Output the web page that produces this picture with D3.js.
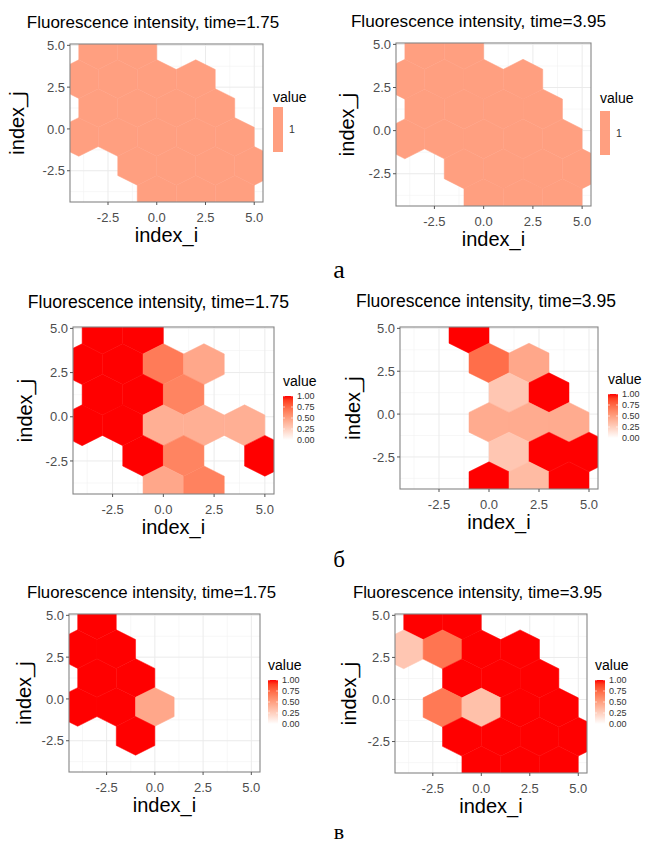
<!DOCTYPE html>
<html>
<head>
<meta charset="utf-8">
<script src="https://cdn.jsdelivr.net/npm/d3@7"></script>
<style>
  html, body { margin: 0; padding: 0; background: #ffffff; }
  svg { display: block; }
  text { font-family: "Liberation Sans", Arial, sans-serif; }
</style>
</head>
<body>
<svg id="fig" width="645" height="844"></svg>
<script>
// ---------------- DATA ----------------
const titles = [
  "Fluorescence intensity, time=1.75",
  "Fluorescence intensity, time=3.95",
  "Fluorescence intensity, time=1.75",
  "Fluorescence intensity, time=3.95",
  "Fluorescence intensity, time=1.75",
  "Fluorescence intensity, time=3.95"
];
const xTicks = [-2.5, 0, 2.5, 5.0];
const yTicks = [-2.5, 0, 2.5, 5.0];
const xTickLabels = ["-2.5", "0.0", "2.5", "5.0"];
const yTickLabels = ["-2.5", "0.0", "2.5", "5.0"];
const xMinor = [-3.75, -1.25, 1.25, 3.75];
const yMinor = [-3.75, -1.25, 1.25, 3.75];
const xLabel = "index_i";
const yLabel = "index_j";
const legendTitle = "value";
const legendValues = [0, 0.25, 0.5, 0.75, 1];
const legendLabels = ["0.00", "0.25", "0.50", "0.75", "1.00"];
const singleLabel = ["1"];
const subLabels = ["а", "б", "в"];

// hex bins: [index_i centre, index_j centre, value]
const hexA175 = [
  [-3, 4.71, 1], [-1, 4.71, 1],
  [-4, 2.98, 1], [-2, 2.98, 1], [0, 2.98, 1], [2, 2.98, 1],
  [-3, 1.25, 1], [-1, 1.25, 1], [1, 1.25, 1], [3, 1.25, 1],
  [-4, -0.48, 1], [-2, -0.48, 1], [0, -0.48, 1], [2, -0.48, 1], [4, -0.48, 1],
  [-1, -2.21, 1], [1, -2.21, 1], [3, -2.21, 1], [5, -2.21, 1],
  [0, -3.94, 1], [2, -3.94, 1], [4, -3.94, 1]
];
const hexA395 = [
  [-3, 4.71, 1], [-1, 4.71, 1],
  [-4, 2.98, 1], [-2, 2.98, 1], [0, 2.98, 1], [2, 2.98, 1],
  [-3, 1.25, 1], [-1, 1.25, 1], [1, 1.25, 1], [3, 1.25, 1],
  [-4, -0.48, 1], [-2, -0.48, 1], [0, -0.48, 1], [2, -0.48, 1], [4, -0.48, 1],
  [-1, -2.21, 1], [1, -2.21, 1], [3, -2.21, 1], [5, -2.21, 1],
  [0, -3.94, 1], [2, -3.94, 1], [4, -3.94, 1]
];
const hexB175 = [
  [-3, 4.71, 1], [-1, 4.71, 1],
  [-4, 2.98, 1], [-2, 2.98, 1], [0, 2.98, 0.67], [2, 2.98, 0.46],
  [-3, 1.25, 1], [-1, 1.25, 1], [1, 1.25, 0.63],
  [-4, -0.48, 1], [-2, -0.48, 1], [0, -0.48, 0.42], [2, -0.48, 0.42], [4, -0.48, 0.42],
  [-1, -2.21, 1], [1, -2.21, 0.63], [5, -2.21, 1],
  [0, -3.94, 0.46], [2, -3.94, 0.64]
];
const hexB395 = [
  [-1, 4.71, 1],
  [0, 2.98, 0.73], [2, 2.98, 0.46],
  [1, 1.25, 0.3], [3, 1.25, 1],
  [0, -0.48, 0.44], [2, -0.48, 0.44], [4, -0.48, 0.44],
  [1, -2.21, 0.3], [3, -2.21, 1], [5, -2.21, 1],
  [0, -3.94, 1], [2, -3.94, 0.36], [4, -3.94, 1]
];
const hexC175 = [
  [-3, 4.71, 1],
  [-4, 2.98, 1], [-2, 2.98, 1],
  [-3, 1.25, 1], [-1, 1.25, 1],
  [-4, -0.48, 1], [-2, -0.48, 1], [0, -0.48, 0.46],
  [-1, -2.21, 1]
];
const hexC395 = [
  [-3, 4.71, 1], [-1, 4.71, 1],
  [-4, 2.98, 0.3], [-2, 2.98, 0.7], [0, 2.98, 1], [2, 2.98, 1],
  [-1, 1.25, 1], [1, 1.25, 1], [3, 1.25, 1],
  [-2, -0.48, 0.68], [0, -0.48, 0.33], [2, -0.48, 1], [4, -0.48, 1],
  [-1, -2.21, 1], [1, -2.21, 1], [3, -2.21, 1], [5, -2.21, 1],
  [0, -3.94, 1], [2, -3.94, 1], [4, -3.94, 1]
];

// ---------------- LAYOUT (pixels) ----------------
const layout = [
  {hex: hexA175, single: true,  L: 70,  T: 44,  R: 263, B: 202, tx: 153,   ty: 27.5,  ts: 17,   jx: 24,  legX: 273, legTY: 101.5, barY: 107, barH: 45},
  {hex: hexA395, single: true,  L: 396, T: 43,  R: 591, B: 206, tx: 478.5, ty: 26.7,  ts: 17.2, jx: 354, legX: 600, legTY: 102.5, barY: 111, barH: 44},
  {hex: hexB175, single: false, L: 73,  T: 327, R: 274, B: 494, tx: 158.5, ty: 308,   ts: 17.6, jx: 32,  legX: 283, legTY: 386,   barY: 396, barH: 44},
  {hex: hexB395, single: false, L: 400, T: 327, R: 598, B: 489, tx: 486,   ty: 307,   ts: 17.5, jx: 360, legX: 608, legTY: 384,   barY: 394, barH: 44},
  {hex: hexC175, single: false, L: 69,  T: 614, R: 260, B: 772, tx: 151.5, ty: 597.7, ts: 16.8, jx: 31,  legX: 268, legTY: 670,   barY: 680, barH: 44},
  {hex: hexC395, single: false, L: 395, T: 614, R: 587, B: 773, tx: 477.5, ty: 597.7, ts: 16.8, jx: 356, legX: 595, legTY: 670,   barY: 680, barH: 44}
];
const subLayout = [
  {x: 339, y: 278, s: 26},
  {x: 339, y: 566.5, s: 23},
  {x: 339, y: 838.5, s: 22}
];
const xDomain = [-4.45, 5.45];
const yDomain = [-4.37, 5.08];

// ---------------- DRAW ----------------
const svg = d3.select("#fig");
const defs = svg.append("defs");
const interp = d3.interpolateLab("#ffffff", "#ff0000");

// gradient for colourbars
const grad = defs.append("linearGradient").attr("id", "cbar")
  .attr("x1", 0).attr("y1", 1).attr("x2", 0).attr("y2", 0);
d3.range(0, 1.0001, 0.1).forEach(t => {
  grad.append("stop").attr("offset", t).attr("stop-color", interp(t));
});

const R3 = 2 / Math.sqrt(3);

layout.forEach((p, idx) => {
  const x = d3.scaleLinear().domain(xDomain).range([p.L, p.R]);
  const y = d3.scaleLinear().domain(yDomain).range([p.B, p.T]);
  const vals = p.hex.map(d => d[2]);
  const color = p.single
    ? d3.scaleSequential(interp).domain(d3.extent(vals))
    : d3.scaleSequential(interp).domain([0, 1]);

  const g = svg.append("g");
  defs.append("clipPath").attr("id", "clip" + idx)
    .append("rect").attr("x", p.L).attr("y", p.T)
    .attr("width", p.R - p.L).attr("height", p.B - p.T);

  const pg = g.append("g").attr("clip-path", `url(#clip${idx})`);
  // minor grid
  pg.selectAll(".xm").data(xMinor).enter().append("line")
    .attr("x1", d => x(d)).attr("x2", d => x(d)).attr("y1", p.T).attr("y2", p.B)
    .attr("stroke", "#f2f2f2").attr("stroke-width", 0.6);
  pg.selectAll(".ym").data(yMinor).enter().append("line")
    .attr("y1", d => y(d)).attr("y2", d => y(d)).attr("x1", p.L).attr("x2", p.R)
    .attr("stroke", "#f2f2f2").attr("stroke-width", 0.6);
  // major grid
  pg.selectAll(".xg").data(xTicks).enter().append("line")
    .attr("x1", d => x(d)).attr("x2", d => x(d)).attr("y1", p.T).attr("y2", p.B)
    .attr("stroke", "#ebebeb").attr("stroke-width", 1);
  pg.selectAll(".yg").data(yTicks).enter().append("line")
    .attr("y1", d => y(d)).attr("y2", d => y(d)).attr("x1", p.L).attr("x2", p.R)
    .attr("stroke", "#ebebeb").attr("stroke-width", 1);

  // hexagons
  pg.selectAll("polygon").data(p.hex).enter().append("polygon")
    .attr("points", d => {
      const [ci, cj] = d;
      const pts = [
        [ci, cj + R3], [ci + 1, cj + R3 / 2], [ci + 1, cj - R3 / 2],
        [ci, cj - R3], [ci - 1, cj - R3 / 2], [ci - 1, cj + R3 / 2]
      ];
      return pts.map(q => `${x(q[0])},${y(q[1])}`).join(" ");
    })
    .attr("fill", d => color(d[2]))
    .attr("stroke", d => color(d[2]))
    .attr("stroke-width", 0.5)
    .attr("stroke-linejoin", "round");

  // panel border
  g.append("rect").attr("x", p.L).attr("y", p.T)
    .attr("width", p.R - p.L).attr("height", p.B - p.T)
    .attr("fill", "none").attr("stroke", "#858585").attr("stroke-width", 1.1);

  // axes ticks
  g.selectAll(".xt").data(xTicks).enter().append("line")
    .attr("x1", d => x(d)).attr("x2", d => x(d)).attr("y1", p.B).attr("y2", p.B + 3)
    .attr("stroke", "#555").attr("stroke-width", 1);
  g.selectAll(".yt").data(yTicks).enter().append("line")
    .attr("y1", d => y(d)).attr("y2", d => y(d)).attr("x1", p.L - 3).attr("x2", p.L)
    .attr("stroke", "#555").attr("stroke-width", 1);
  g.selectAll(".xl").data(xTicks).enter().append("text")
    .attr("x", d => x(d)).attr("y", p.B + 20)
    .attr("text-anchor", "middle").attr("font-size", 13).attr("fill", "#4d4d4d")
    .text((d, i) => xTickLabels[i]);
  g.selectAll(".yl").data(yTicks).enter().append("text")
    .attr("x", p.L - 5).attr("y", d => y(d)).attr("dy", "0.36em")
    .attr("text-anchor", "end").attr("font-size", 13).attr("fill", "#4d4d4d")
    .text((d, i) => yTickLabels[i]);

  // axis titles
  g.append("text").attr("x", (p.L + p.R) / 2).attr("y", p.B + 40)
    .attr("text-anchor", "middle").attr("font-size", 20).attr("fill", "#000")
    .text(xLabel);
  g.append("text")
    .attr("transform", `translate(${p.jx},${(p.T + p.B) / 2}) rotate(-90)`)
    .attr("text-anchor", "middle").attr("font-size", 20).attr("fill", "#000")
    .text(yLabel);

  // title
  g.append("text").attr("x", p.tx).attr("y", p.ty)
    .attr("text-anchor", "middle").attr("font-size", p.ts).attr("fill", "#000")
    .text(titles[idx]);

  // legend
  g.append("text").attr("x", p.legX).attr("y", p.legTY)
    .attr("font-size", 14).attr("fill", "#000").text(legendTitle);
  const barW = 10;
  if (p.single) {
    g.append("rect").attr("x", p.legX).attr("y", p.barY)
      .attr("width", barW).attr("height", p.barH)
      .attr("fill", color(vals[0]));
    g.append("text").attr("x", p.legX + barW + 6).attr("y", p.barY + p.barH / 2)
      .attr("dy", "0.36em").attr("font-size", 10.5).attr("fill", "#333")
      .text(singleLabel[0]);
  } else {
    const ly = d3.scaleLinear().domain([0, 1]).range([p.barY + p.barH, p.barY]);
    g.append("rect").attr("x", p.legX).attr("y", p.barY)
      .attr("width", barW).attr("height", p.barH)
      .attr("fill", "url(#cbar)");
    g.selectAll(".lt").data(legendValues).enter().append("line")
      .attr("x1", p.legX).attr("x2", p.legX + 2)
      .attr("y1", d => ly(d)).attr("y2", d => ly(d))
      .attr("stroke", "#fff").attr("stroke-width", 0.6);
    g.selectAll(".lt2").data(legendValues).enter().append("line")
      .attr("x1", p.legX + barW - 2).attr("x2", p.legX + barW)
      .attr("y1", d => ly(d)).attr("y2", d => ly(d))
      .attr("stroke", "#fff").attr("stroke-width", 0.6);
    g.selectAll(".ll").data(legendValues).enter().append("text")
      .attr("x", p.legX + barW + 4).attr("y", d => ly(d)).attr("dy", "0.36em")
      .attr("font-size", 9).attr("fill", "#333")
      .text((d, i) => legendLabels[i]);
  }
});

// sub-figure labels
svg.selectAll(".sub").data(subLabels).enter().append("text")
  .attr("x", (d, i) => subLayout[i].x).attr("y", (d, i) => subLayout[i].y)
  .attr("text-anchor", "middle")
  .attr("font-size", (d, i) => subLayout[i].s)
  .style("font-family", "'Liberation Serif', 'Times New Roman', serif")
  .attr("fill", "#000")
  .text(d => d);
</script>
</body>
</html>
